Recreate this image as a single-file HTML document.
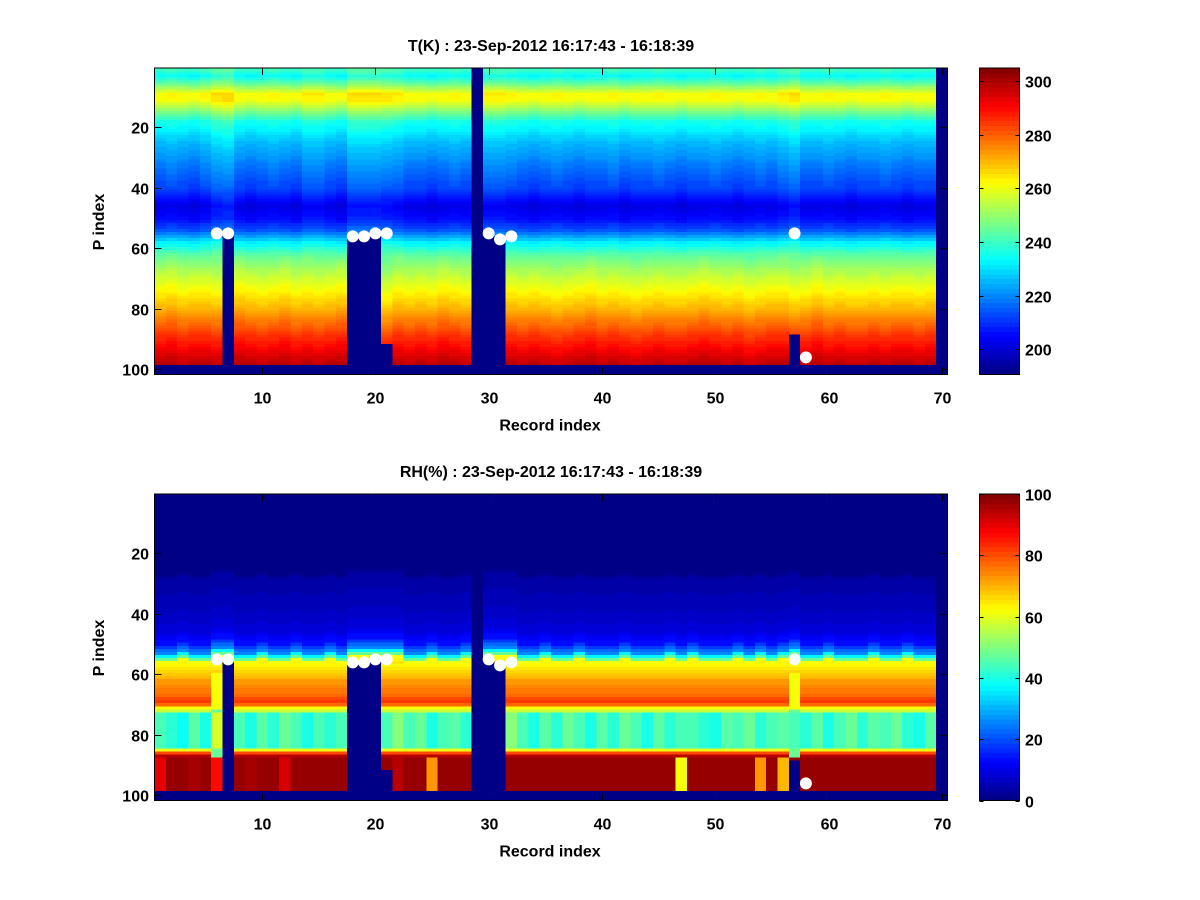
<!DOCTYPE html>
<html><head><meta charset="utf-8">
<style>
html,body{margin:0;padding:0;background:#fff;}
svg{display:block;}
text{font-family:"Liberation Sans",Arial,sans-serif;font-weight:bold;font-size:16px;fill:#000;}
</style></head>
<body>
<svg id="fig" width="1200" height="900" viewBox="0 0 1200 900" xmlns="http://www.w3.org/2000/svg" shape-rendering="crispEdges"></svg>
<script>
// ---------- data ----------
const nCols = 70;
const nRows = 101;
// Temperature mean profile key points (row index, K)
const tKeyRows = [1,3,6,9,11,14,18,25,32,40,46,50,54,58,62,66,70,75,80,85,90,95,98];
const tKeyVals = [240,234,246,262,261,250,236,226,219,212,202,205,214,232,243,250,256,263,270,278,286,293,297];
// per-record offset on upper levels (K)
const tUpperOffset = [0,1,0,-1,1,4,5,0,-1,0,1,0,-1,2,2,0,-1,4,4,4,3,2,0,0,-1,0,1,0,0,2,2,1,0,-1,0,1,0,-1,0,0,1,-1,0,0,1,0,-1,0,0,1,0,-1,0,1,0,2,4,0,0,1,0,-1,0,0,1,0,-1,0,0,0];
// per-record offset on lower levels (K)
const tLowerOffset = [1,2,0,1,1,0,0,2,1,0,1,2,0,1,0,1,2,0,0,0,-2,1,0,1,0,2,1,0,0,0,0,1,0,1,0,-1,0,1,2,0,1,0,-1,0,1,0,0,1,2,1,0,1,-1,0,1,1,-1,0,2,0,1,0,0,1,0,1,1,0,1,0];
// RH mean profile key points (row index, %)
const rhKeyRows = [1,26,28,35,42,46,50,53,55,56,58,62,66,69,70,71,73,78,84,85,86,87,90,98];
const rhKeyVals = [0,0,3,5,7,9,14,26,48,62,65,72,76,82,78,62,52,45,40,60,80,95,98,98];
// per-record shift (rows) of the moist-layer top
const rhTopShift = [0,0,-1,0,0,-2,-2,0,0,-1,0,0,-1,0,0,-1,0,-2,-2,-2,-2,-2,0,0,-1,0,0,-1,0,-2,-2,-2,0,0,-1,0,0,-1,0,0,0,-1,0,0,0,-1,0,-1,0,0,0,-1,0,-1,0,-1,-2,0,0,-1,0,0,0,-1,0,0,-1,0,0,0];
// per-record RH of the 73-84 band (%)
const rhMid = [45,42,38,46,40,58,45,44,40,46,42,48,44,40,45,42,44,45,45,45,45,50,44,48,40,44,46,42,45,45,45,50,44,40,46,42,48,44,40,46,42,48,44,40,46,42,45,44,42,40,46,44,48,42,44,46,45,42,46,40,44,48,42,46,44,48,42,40,46,45];
// per-record RH of the 88-98 band (%)
const rhBottom = [90,98,98,96,98,86,98,98,96,98,98,92,98,98,98,98,98,98,98,98,98,94,98,98,72,98,98,98,98,98,98,98,98,98,98,98,98,98,98,98,98,98,98,98,98,98,62,98,98,98,98,98,98,72,98,70,98,98,98,98,98,98,98,98,98,98,98,98,98,98];
// first missing row per record (999 = none)
const nanFrom = [999,999,999,999,999,999,56,999,999,999,999,999,999,999,999,999,999,56,56,56,92,999,999,999,999,999,999,999,1,56,58,999,999,999,999,999,999,999,999,999,999,999,999,999,999,999,999,999,999,999,999,999,999,999,999,999,89,999,999,999,999,999,999,999,999,999,999,999,999,1];
// markers (record, level)
const markX = [6,7,18,19,20,21,30,31,32,57,58];
const markY = [55,55,56,56,55,55,55,57,56,55,96];
const xTicks = [10,20,30,40,50,60,70];
const yTicks = [20,40,60,80,100];
const tCbTicks = [200,220,240,260,280,300];
const rhCbTicks = [0,20,40,60,80,100];
const tRange = [190.5,305];
const rhRange = [0,100];

// ---------- helpers ----------
const NS='http://www.w3.org/2000/svg';
const svg=document.getElementById('fig');
function mk(tag,attrs,parent){const e=document.createElementNS(NS,tag);for(const k in attrs)e.setAttribute(k,attrs[k]);(parent||svg).appendChild(e);return e;}
function interp(kr,kv,r){if(r<=kr[0])return kv[0];for(let i=1;i<kr.length;i++){if(r<=kr[i]){const t=(r-kr[i-1])/(kr[i]-kr[i-1]);return kv[i-1]+t*(kv[i]-kv[i-1]);}}return kv[kv.length-1];}
function jet(f){
  let i=Math.max(0,Math.min(63,Math.floor(f*64)));const x=(i+0.5)/64;
  const c=v=>Math.round(255*Math.max(0,Math.min(1,v)));
  return 'rgb('+c(1.5-Math.abs(4*x-3))+','+c(1.5-Math.abs(4*x-2))+','+c(1.5-Math.abs(4*x-1))+')';
}
const AX_L=154.5, AX_R=947.5, PX=(AX_R-AX_L)/70;
const xS=v=>AX_L+(v-0.5)*PX;
function tVal(c,r){
  const base=interp(tKeyRows,tKeyVals,r);
  const w=r<58?1:(r<66?(66-r)/8:0);
  return base+tUpperOffset[c]*w+tLowerOffset[c]*(1-w);
}
function rhVal(c,r){
  if(r>=88) return rhBottom[c];
  if(r>=73&&r<=84) return rhMid[c];
  if((c===5||c===56)&&r>=60) return r<72?62:48;
  const rr=r<57?r-rhTopShift[c]:r;
  return interp(rhKeyRows,rhKeyVals,rr);
}

function panel(top,title,valFn,range,cbTicks,name){
  const bottom=top+306.5;
  const yS=v=>top+0.5+(v-0.5)*3.025;
  const g=mk('g',{});
  const hm=mk('g',{},g);
  
  
  for(let c=0;c<nCols;c++){
    for(let r=1;r<=nRows;r++){
      let v;
      if(r>98||r>=nanFrom[c]) v=range[0]; else v=valFn(c,r);
      const f=(v-range[0])/(range[1]-range[0]);
      const y0=yS(r-0.5), y1=Math.min(yS(r+0.5),bottom);
      const cell=mk('rect',{x:xS(c+1-0.5).toFixed(2),y:y0.toFixed(2),width:(PX+0.3).toFixed(2),height:(y1-y0+0.3).toFixed(2),fill:jet(f)},hm);
      
      
    }
  }
  for(let i=0;i<markX.length;i++){
    const m=mk('circle',{cx:xS(markX[i]),cy:yS(markY[i]),r:6,fill:'#fff','shape-rendering':'auto'},g);
    
    
  }
  const fr=mk('rect',{x:AX_L,y:top,width:AX_R-AX_L,height:bottom-top,fill:'none',stroke:'#000','stroke-width':1},g);
  
  
  xTicks.forEach(t=>{
    const x=Math.round(xS(t))+0.5;
    mk('line',{x1:x,x2:x,y1:top,y2:top+7,stroke:'#000'},g);
    mk('line',{x1:x,x2:x,y1:bottom,y2:bottom-7,stroke:'#000'},g);
    const tl=mk('text',{x:x,y:bottom+29,'text-anchor':'middle'},g);tl.textContent=t;
    
    
  });
  yTicks.forEach(t=>{
    const y=Math.round(yS(t))+0.5;
    mk('line',{x1:AX_L,x2:AX_L+7,y1:y,y2:y,stroke:'#000'},g);
    mk('line',{x1:AX_R,x2:AX_R-7,y1:y,y2:y,stroke:'#000'},g);
    const tl=mk('text',{x:149,y:y+6,'text-anchor':'end'},g);tl.textContent=t;
    
    
  });
  const tt=mk('text',{x:551,y:top-17,'text-anchor':'middle'},g);tt.textContent=title;
  
  
  const xl=mk('text',{x:550,y:bottom+56,'text-anchor':'middle','font-size':'18'},g);xl.textContent='Record index';
  
  
  const yl=mk('text',{x:0,y:0,'text-anchor':'middle','font-size':'18',transform:'translate(104,'+(top+154)+') rotate(-90)'},g);yl.textContent='P index';
  
  
  const cb=mk('g',{},g);
  
  
  const cbL=979.5,cbR=1019.5,h=bottom-top;
  for(let i=0;i<64;i++){
    const y1=bottom-(i)*h/64, y0=bottom-(i+1)*h/64;
    mk('rect',{x:cbL,y:y0,width:cbR-cbL,height:y1-y0+0.5,fill:jet((i+0.5)/64)},cb);
  }
  mk('rect',{x:cbL,y:top,width:cbR-cbL,height:h,fill:'none',stroke:'#000'},cb);
  cbTicks.forEach(t=>{
    const y=Math.round(bottom-(t-range[0])/(range[1]-range[0])*h)+0.5;
    mk('line',{x1:cbL,x2:cbL+4,y1:y,y2:y,stroke:'#000'},cb);
    mk('line',{x1:cbR,x2:cbR-4,y1:y,y2:y,stroke:'#000'},cb);
    const tl=mk('text',{x:1025,y:y+6},cb);tl.textContent=t;
    
    
  });
}
panel(68,'T(K) : 23-Sep-2012 16:17:43 - 16:18:39',tVal,tRange,tCbTicks,'temperature');
panel(494,'RH(%) : 23-Sep-2012 16:17:43 - 16:18:39',rhVal,rhRange,rhCbTicks,'humidity');
</script>
</body></html>
